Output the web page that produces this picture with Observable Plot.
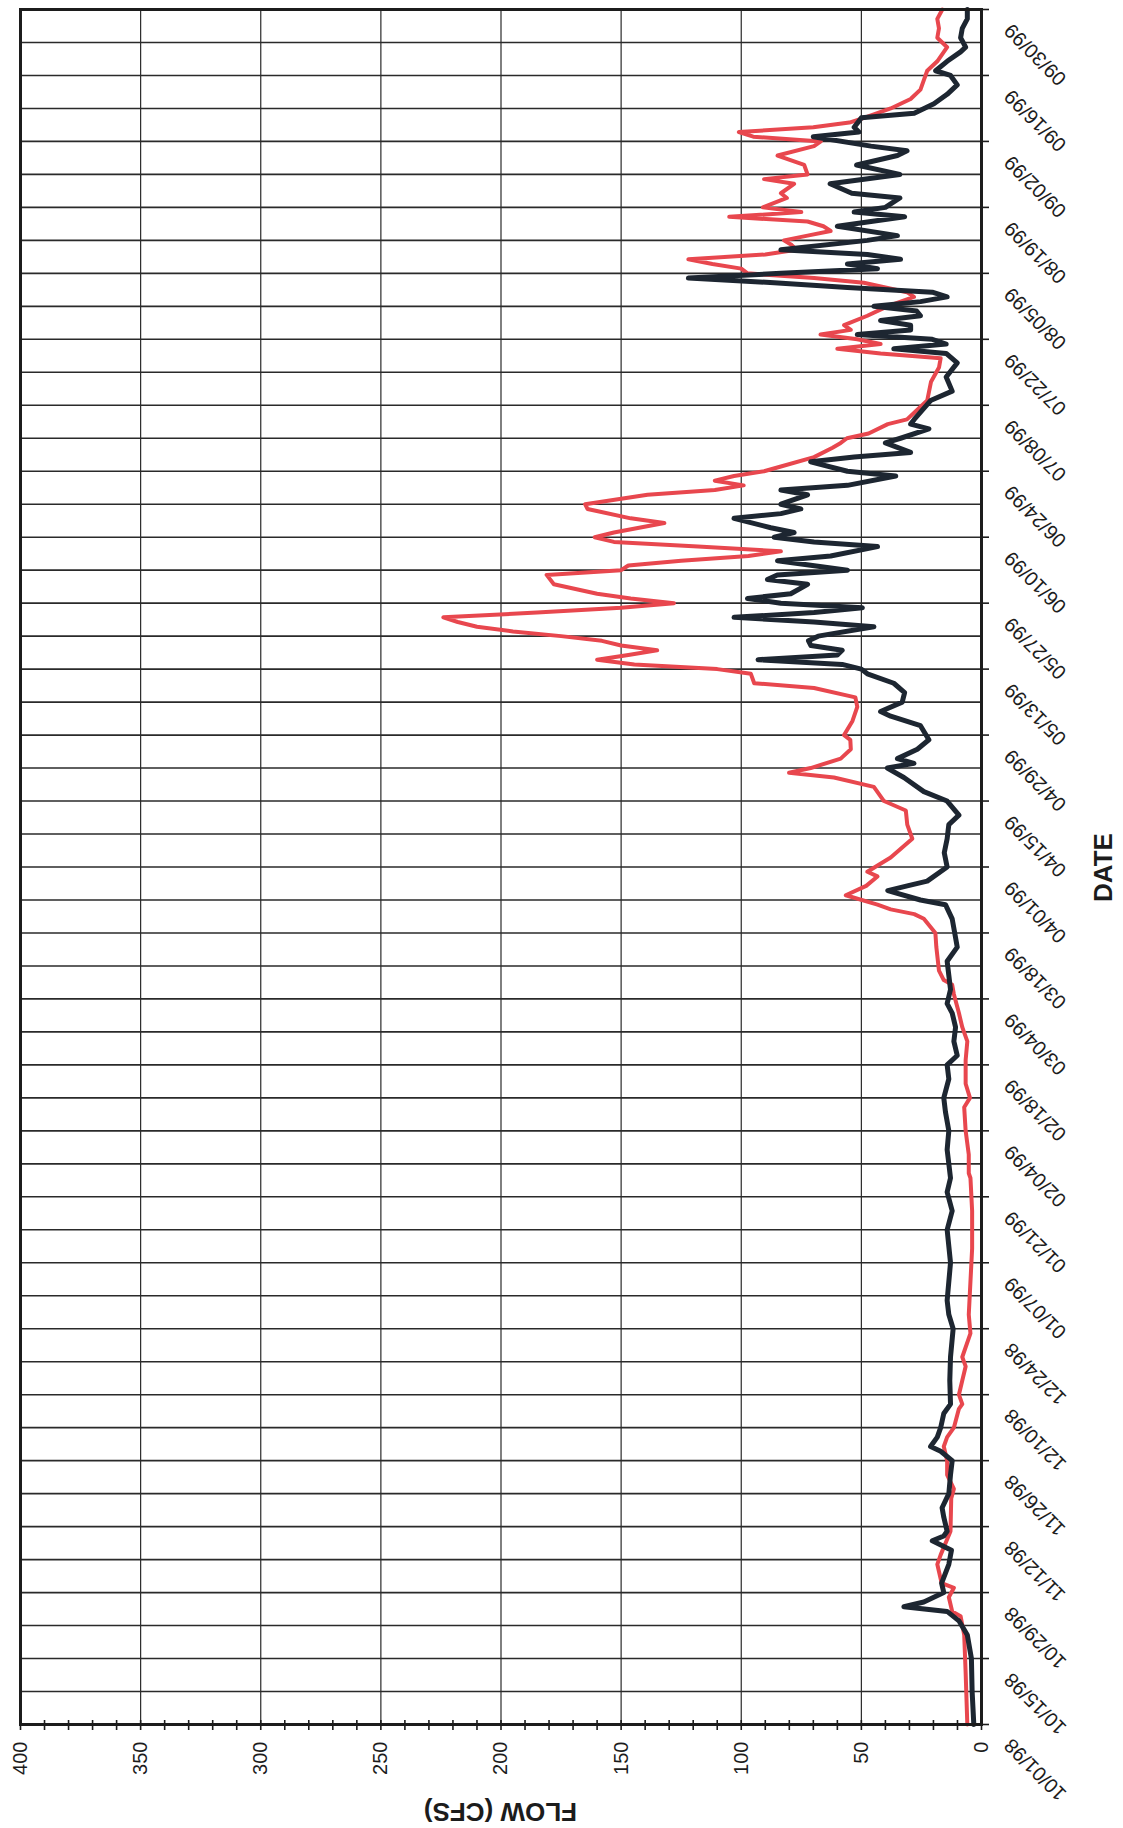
<!DOCTYPE html>
<html>
<head>
<meta charset="utf-8">
<script src="https://cdn.jsdelivr.net/npm/d3@7"></script>
<script src="https://cdn.jsdelivr.net/npm/@observablehq/plot@0.6"></script>
<style>
html, body { margin: 0; padding: 0; background: #fff; width: 1123px; height: 1828px; overflow: hidden; }
#wrap { position: absolute; left: 0; top: 0; width: 1828px; height: 1123px; transform-origin: 0 0; transform: translate(0, 1828px) rotate(-90deg); }
</style>
</head>
<body>
<div id="wrap"></div>
<script>
// ---- DATA ----
const dateTickLabels = ["10/01/98","10/15/98","10/29/98","11/12/98","11/26/98","12/10/98","12/24/98",
  "01/07/99","01/21/99","02/04/99","02/18/99","03/04/99","03/18/99","04/01/99","04/15/99","04/29/99",
  "05/13/99","05/27/99","06/10/99","06/24/99","07/08/99","07/22/99","08/05/99","08/19/99","09/02/99",
  "09/16/99","09/30/99"];
const flowTicks = [0, 50, 100, 150, 200, 250, 300, 350, 400];

const blackDates = ["1998-10-01","1998-10-08","1998-10-15","1998-10-20","1998-10-23","1998-10-25","1998-10-26","1998-10-27","1998-10-29","1998-10-31",
"1998-11-04","1998-11-07","1998-11-09","1998-11-10","1998-11-11","1998-11-14","1998-11-16","1998-11-19","1998-11-23","1998-11-26","1998-11-28","1998-11-29",
"1998-12-01","1998-12-03","1998-12-06","1998-12-08","1998-12-13","1998-12-18","1998-12-24","1998-12-27","1998-12-30",
"1999-01-07","1999-01-14","1999-01-18","1999-01-22","1999-01-25","1999-01-28","1999-01-31",
"1999-02-04","1999-02-08","1999-02-11","1999-02-15","1999-02-18","1999-02-20","1999-02-23","1999-02-26",
"1999-03-01","1999-03-03","1999-03-06","1999-03-09","1999-03-12","1999-03-15","1999-03-17","1999-03-21","1999-03-24","1999-03-25","1999-03-27","1999-03-28","1999-03-29",
"1999-04-01","1999-04-04","1999-04-07","1999-04-10","1999-04-12","1999-04-15","1999-04-17","1999-04-20","1999-04-22","1999-04-23","1999-04-24","1999-04-26","1999-04-28",
"1999-05-01","1999-05-03","1999-05-04","1999-05-06","1999-05-08","1999-05-10","1999-05-12","1999-05-13","1999-05-14","1999-05-15","1999-05-16","1999-05-17","1999-05-18","1999-05-19","1999-05-20","1999-05-22","1999-05-23","1999-05-24","1999-05-25","1999-05-26","1999-05-27","1999-05-28","1999-05-29","1999-05-31",
"1999-06-01","1999-06-02","1999-06-03","1999-06-05","1999-06-06","1999-06-08","1999-06-09","1999-06-10","1999-06-11","1999-06-12","1999-06-14","1999-06-15","1999-06-16","1999-06-17","1999-06-19","1999-06-20","1999-06-21","1999-06-23","1999-06-24","1999-06-26","1999-06-27","1999-06-28","1999-06-30",
"1999-07-01","1999-07-03","1999-07-04","1999-07-05","1999-07-09","1999-07-11","1999-07-14","1999-07-17","1999-07-19","1999-07-20","1999-07-21","1999-07-22","1999-07-23","1999-07-24","1999-07-25","1999-07-26","1999-07-27","1999-07-28","1999-07-29","1999-07-30","1999-07-31",
"1999-08-01","1999-08-02","1999-08-03","1999-08-04","1999-08-05","1999-08-06","1999-08-07","1999-08-08","1999-08-09","1999-08-10","1999-08-12","1999-08-13","1999-08-15","1999-08-16","1999-08-17","1999-08-18","1999-08-19","1999-08-21","1999-08-22","1999-08-24","1999-08-26","1999-08-28","1999-08-30","1999-08-31",
"1999-09-01","1999-09-03","1999-09-04","1999-09-05","1999-09-07","1999-09-08","1999-09-10","1999-09-12","1999-09-14","1999-09-16","1999-09-17","1999-09-19","1999-09-21","1999-09-22","1999-09-24","1999-09-26","1999-09-28","1999-09-30"];
const blackFlow = [3.2,3.9,4.2,5.9,9.4,14.3,32.3,24,15.7,16.6,
13.6,12.5,20.5,15.7,14.3,15.7,16.4,13.6,12.9,12.2,17,21.2,
18.4,17,15.7,12.9,13.2,12.9,11.8,13.6,14.3,
12.9,14.3,12.2,14.3,12.9,13.6,14.3,
13.6,15,15.7,13.6,14.3,10.1,11.5,10.8,
12.2,14.3,12.9,13.6,14.3,10.1,10.8,12.2,15,25.4,39,30.9,22.6,
14.3,15.5,14.3,13.6,9.4,14.3,24,32.3,39.2,28.1,35,26.7,21.9,
25.4,37.8,42,33,32,36.5,47.5,50,58,93,60,58,71,72,68,44.8,69.7,103,69.7,49.6,83.5,97.4,79.4,72.4,
89.1,85,55.8,84.9,62.8,43.3,69.7,86.3,78,87.7,103,83.5,75.2,83.5,72.4,83.5,55.8,35.7,55.8,71.1,53,29.5,40,
33.7,21.9,29.5,28,21.2,12.2,14.7,10.1,14.7,36.5,14.7,20.5,51.7,29.5,29.5,42,25.4,27,44.8,25.4,14.3,
20.5,55.8,86.3,122,83.5,43.3,55.8,33.7,47.5,83.5,47.5,35,60,46,32,53,40,34,54,63,34,52,35,31,
46,70,51,53,50,28,19.8,14.3,10.1,12.9,19.1,14.3,8.7,6.6,8.7,8,5.9,5.9];

const redDates = ["1998-10-01","1998-10-12","1998-10-20","1998-10-24","1998-10-25","1998-10-28","1998-10-30","1998-10-31",
"1998-11-04","1998-11-06","1998-11-11","1998-11-18","1998-11-20","1998-11-23","1998-11-26","1998-11-29",
"1998-12-01","1998-12-03","1998-12-07","1998-12-08","1998-12-10","1998-12-13","1998-12-16","1998-12-18","1998-12-23","1998-12-27","1998-12-30",
"1999-01-10","1999-01-18","1999-01-25","1999-01-26","1999-01-30",
"1999-02-04","1999-02-09","1999-02-11","1999-02-14","1999-02-19","1999-02-23","1999-02-26",
"1999-03-01","1999-03-05","1999-03-07","1999-03-08","1999-03-10","1999-03-15","1999-03-18","1999-03-21","1999-03-22","1999-03-23","1999-03-24","1999-03-26","1999-03-28","1999-03-30","1999-03-31",
"1999-04-03","1999-04-07","1999-04-10","1999-04-13","1999-04-15","1999-04-18","1999-04-20","1999-04-21","1999-04-22","1999-04-24","1999-04-26","1999-04-28","1999-04-29",
"1999-05-02","1999-05-05","1999-05-07","1999-05-09","1999-05-10","1999-05-12","1999-05-13","1999-05-14","1999-05-15","1999-05-16","1999-05-17","1999-05-18","1999-05-19","1999-05-20","1999-05-21","1999-05-22","1999-05-23","1999-05-24","1999-05-25","1999-05-26","1999-05-27","1999-05-28","1999-05-29","1999-05-31",
"1999-06-02","1999-06-03","1999-06-04","1999-06-05","1999-06-06","1999-06-07","1999-06-08","1999-06-09","1999-06-10","1999-06-11","1999-06-13","1999-06-14","1999-06-16","1999-06-17","1999-06-19","1999-06-20","1999-06-21","1999-06-22","1999-06-23","1999-06-24","1999-06-25","1999-06-27","1999-06-29","1999-06-30",
"1999-07-01","1999-07-02","1999-07-04","1999-07-05","1999-07-09","1999-07-13","1999-07-16","1999-07-18","1999-07-19","1999-07-20","1999-07-21","1999-07-22","1999-07-23","1999-07-24","1999-07-25","1999-07-27","1999-07-29","1999-07-31",
"1999-08-01","1999-08-03","1999-08-04","1999-08-05","1999-08-06","1999-08-07","1999-08-08","1999-08-09","1999-08-10","1999-08-11","1999-08-12","1999-08-13","1999-08-14","1999-08-15","1999-08-16","1999-08-17","1999-08-18","1999-08-19","1999-08-21","1999-08-22","1999-08-24","1999-08-25","1999-08-26","1999-08-28","1999-08-30",
"1999-09-01","1999-09-02","1999-09-03","1999-09-04","1999-09-05","1999-09-06","1999-09-07","1999-09-09","1999-09-11","1999-09-13","1999-09-15","1999-09-17","1999-09-19","1999-09-22","1999-09-24","1999-09-26","1999-09-28","1999-09-30"];
const redFlow = [5.9,6.6,7.2,8.7,12.2,13.6,11.5,16.6,
18.4,17,12.9,12.6,11.5,14.3,14.3,15.7,
14.3,11.5,9.4,8,9.4,8,6.6,8,4.6,5.3,5,
3.9,3.9,4.6,5.3,5.3,
6.6,7.2,4.8,6.6,6.6,5.9,8,
9.4,11.5,12.2,15.7,17.7,18.8,19.2,24,28,37.8,43.3,56.5,48,43.3,47.5,
37.8,28.8,30.9,31.5,40.6,44.8,61.4,80.1,71.1,58.6,54.4,54.6,57.2,
53.7,51.7,52.5,69.7,94.6,96,110,144.5,160,147,135,150,158,175,195,210,218,224,185,150,128,146,160,178,
181,150,147,125,97,83.5,118,153,161,153,132,146,164,165,139,111,99,111,103,90.5,83.5,69.7,62,58.6,
56,47,39,31,22.6,21,17.7,17,42,60,42,51.7,67,54.4,57.2,47.5,39.2,28.1,
31,49,69.7,97.4,100,112,122,90,77,79,82.2,72.4,62.8,65.8,72.4,105,75,91,81,83.5,78,90.5,72.4,73.8,84.9,
69.7,66.9,95,101,70,55,48.9,37.8,29.5,25.4,24,22.6,18.4,14.3,18.4,17.7,18.4,16.3];

// ---- BUILD ----
const W = 1828, H = 1123;
const M = {left: 103, right: 10, top: 20, bottom: 142};
const plotW = W - M.left - M.right;
const parseISO = d3.utcParse("%Y-%m-%d");
const parseTick = d3.utcParse("%m/%d/%y");
const red = redDates.map((d, i) => ({date: parseISO(d), flow: redFlow[i]}));
const black = blackDates.map((d, i) => ({date: parseISO(d), flow: blackFlow[i]}));
const tickDates = dateTickLabels.map(parseTick);
const start = tickDates[0], end = tickDates[tickDates.length - 1];
const weekly = d3.utcDay.range(start, d3.utcDay.offset(end, 1), 7);
const minorFlow = d3.range(0, 401, 10);
const ink = "#1c1c1c";
const font = "'Liberation Sans', Arial, sans-serif";

const chart = Plot.plot({
  width: W, height: H,
  marginLeft: M.left, marginRight: M.right, marginTop: M.top, marginBottom: M.bottom,
  style: {background: "#fff", fontFamily: font, color: ink},
  x: {type: "utc", domain: [start, end], label: null},
  y: {domain: [0, 400], label: null},
  marks: [
    Plot.gridY(flowTicks, {stroke: "#2a2a2a", strokeOpacity: 1, strokeWidth: 1.2}),
    Plot.gridX(weekly, {stroke: "#2a2a2a", strokeOpacity: 1, strokeWidth: 1.6}),
    Plot.line(red, {x: "date", y: "flow", stroke: "#e8474e", strokeWidth: 4, strokeLinejoin: "round"}),
    Plot.line(black, {x: "date", y: "flow", stroke: "#1d2631", strokeWidth: 5, strokeLinejoin: "round"}),
    Plot.axisX(tickDates, {tickSize: 8, tickFormat: () => "", stroke: ink, strokeWidth: 1.6}),
    Plot.text(tickDates, {x: d => d, frameAnchor: "bottom", text: (d, i) => dateTickLabels[i],
      rotate: -45, textAnchor: "end", dx: -13, dy: 31, fontSize: 20, fill: ink}),
    Plot.axisY(flowTicks, {tickSize: 0, tickPadding: 17, fontSize: 20, fill: ink}),
    Plot.tickY(minorFlow, {y: d => d, insetRight: plotW - 10, dx: -5, stroke: ink, strokeWidth: 1.6}),
    Plot.frame({stroke: ink, strokeWidth: 3})
  ]
});

const svg = d3.select(chart);
svg.append("text")
  .attr("transform", `translate(25, ${(M.top + H - M.bottom) / 2}) rotate(-90)`)
  .attr("text-anchor", "middle")
  .attr("font-family", font).attr("font-weight", "bold").attr("font-size", 26).attr("fill", ink)
  .text("FLOW (CFS)");
svg.append("text")
  .attr("x", M.left + plotW / 2).attr("y", 1112)
  .attr("text-anchor", "middle")
  .attr("font-family", font).attr("font-weight", "bold").attr("font-size", 26).attr("fill", ink)
  .text("DATE");

document.getElementById("wrap").appendChild(chart);
</script>
</body>
</html>
